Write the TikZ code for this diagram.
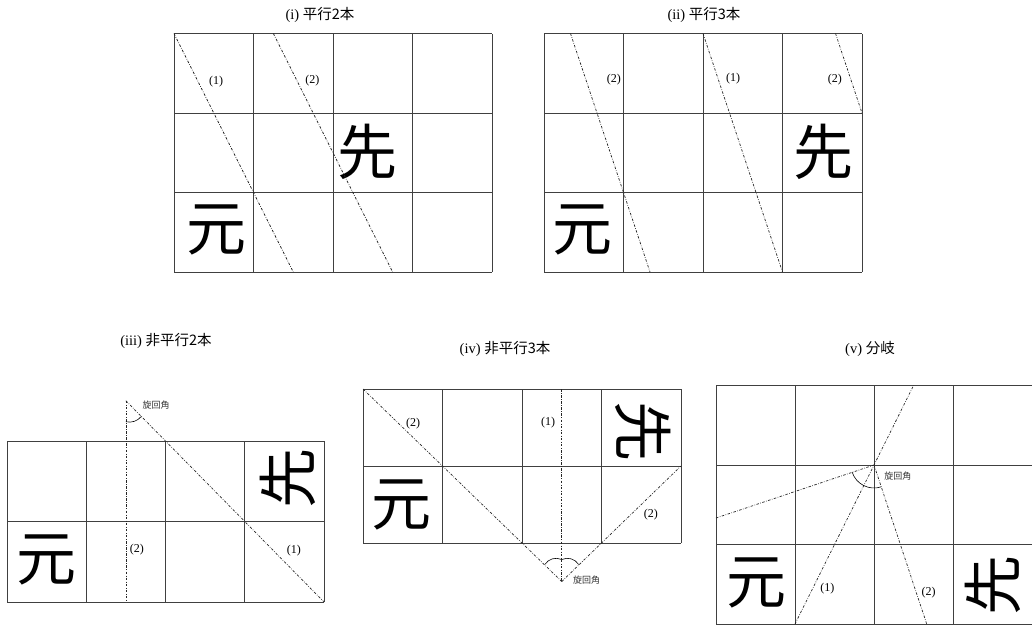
\documentclass[tikz,border=0pt]{standalone}
\usepackage{fontspec}
\setmainfont{Liberation Serif}
\newfontfamily\jpfont{Noto Sans CJK JP}
\begin{document}
\begin{tikzpicture}[x=1pt,y=1pt,
  cell/.style={draw=black!75,line width=0.8pt},
  cutline/.style={line width=0.7pt,black!85,dash pattern=on 2.5pt off 1.5pt on 0.6pt off 1.5pt},
  angarc/.style={line width=0.6pt,black},
  num/.style={font=\fontsize{12}{14}\selectfont,inner sep=1pt},
  bigchar/.style={font=\jpfont\fontsize{60}{62}\selectfont,inner sep=0pt},
  ttl/.style={font=\fontsize{14.5}{16}\selectfont,inner sep=1pt},
  anglbl/.style={font=\jpfont\fontsize{9}{10}\selectfont,inner sep=0pt,anchor=west,black!80}]
\useasboundingbox (0,0) rectangle (1032,-624);
\fill[white] (0,0) rectangle (1032,-624);
% (i)
\node[ttl] (t1) at (320,-15) {(i) {\jpfont 平行2本}};
\begin{scope}[shift={(174pt,-272pt)},x=79.5pt,y=79.5pt]
\draw[cell,step=1] (0,0) grid (4,3);
\node[bigchar] (gen1) at (0.54,0.53) {元};
\node[bigchar] (sen1) at (2.44,1.51) {先};
\coordinate (a1) at (0,3);
\coordinate (b1) at (1.5,0);
\coordinate (c1) at (1.25,3);
\coordinate (d1) at (2.75,0);
\draw[cutline] (a1) -- (b1);
\draw[cutline] (c1) -- (d1);
\node[num] (n1a) at (0.53,2.39) {(1)};
\node[num] (n1b) at (1.74,2.41) {(2)};
\end{scope}
% (ii)
\node[ttl] (t2) at (704,-15) {(ii) {\jpfont 平行3本}};
\begin{scope}[shift={(544pt,-272pt)},x=79.5pt,y=79.5pt]
\draw[cell,step=1] (0,0) grid (4,3);
\node[bigchar] (gen2) at (0.49,0.53) {元};
\node[bigchar] (sen2) at (3.51,1.51) {先};
\coordinate (a2) at (0.333,3);
\coordinate (b2) at (1.333,0);
\coordinate (c2) at (2,3);
\coordinate (d2) at (3,0);
\coordinate (e2) at (3.667,3);
\coordinate (f2) at (4,2);
\draw[cutline] (a2) -- (b2);
\draw[cutline] (c2) -- (d2);
\draw[cutline] (e2) -- (f2);
\node[num] (n2a) at (0.88,2.42) {(2)};
\node[num] (n2b) at (2.38,2.43) {(1)};
\node[num] (n2c) at (3.66,2.42) {(2)};
\end{scope}
% (iii)
\node[ttl] (t3) at (166,-341) {(iii) {\jpfont 非平行2本}};
\begin{scope}[shift={(7pt,-602pt)},x=79.25pt,y=80.5pt]
\draw[cell,step=1] (0,0) grid (4,2);
\node[bigchar] (gen3) at (0.5,0.52) {元};
\node[bigchar,rotate=90] (sen3) at (3.55,1.54) {先};
\coordinate (o3) at (1.5,2.5);
\coordinate (b3) at (1.5,0);
\coordinate (d3) at (4,0);
\draw[cutline] (o3) -- (b3);
\draw[cutline] (o3) -- (d3);
\path (o3) ++(-90:21pt) coordinate (p3);
\path (o3) ++(-45:22pt) coordinate (q3);
\draw[angarc] (p3) to[bend right=30] (q3);
\node[anglbl] (g3) at (1.71,2.45) {旋回角};
\node[num] (n3a) at (1.64,0.65) {(2)};
\node[num] (n3b) at (3.62,0.64) {(1)};
\end{scope}
% (iv)
\node[ttl] (t4) at (505,-349) {(iv) {\jpfont 非平行3本}};
\begin{scope}[shift={(363pt,-543pt)},x=79.5pt,y=77pt]
\draw[cell,step=1] (0,0) grid (4,2);
\node[bigchar] (gen4) at (0.49,0.5) {元};
\node[bigchar,rotate=-90] (sen4) at (3.52,1.45) {先};
\coordinate (o4) at (2.5,-0.5);
\coordinate (a4) at (0,2);
\coordinate (c4) at (2.5,2);
\coordinate (d4) at (4,1);
\draw[cutline] (a4) -- (o4);
\draw[cutline] (c4) -- (o4);
\draw[cutline] (o4) -- (d4);
\path (o4) ++(90:22pt) coordinate (p4);
\path (o4) ++(135:24pt) coordinate (q4);
\path (o4) ++(45:24pt) coordinate (r4);
\draw[angarc] (p4) to[bend right=40] (q4);
\draw[angarc] (p4) to[bend left=40] (r4);
\node[anglbl] (g4) at (2.64,-0.48) {旋回角};
\node[num] (n4a) at (0.63,1.55) {(2)};
\node[num] (n4b) at (2.33,1.56) {(1)};
\node[num] (n4c) at (3.62,0.37) {(2)};
\end{scope}
% (v)
\node[ttl] (t5) at (870,-349) {(v) {\jpfont 分岐}};
\begin{scope}[shift={(716pt,-624pt)},x=79pt,y=79.5pt]
\draw[cell,step=1] (0,0) grid (4,3);
\node[bigchar] (gen5) at (0.51,0.52) {元};
\node[bigchar,rotate=90] (sen5) at (3.51,0.49) {先};
\coordinate (o5) at (2,2);
\coordinate (a5) at (1,0);
\coordinate (b5) at (2.5,3);
\coordinate (c5) at (2.667,0);
\coordinate (e5) at (0,1.333);
\draw[cutline] (a5) -- (b5);
\draw[cutline] (o5) -- (c5);
\draw[cutline] (e5) -- (o5);
\draw[angarc] (o5) ++(198.4:23pt) arc[start angle=198.4,end angle=288.4,radius=23pt];
\node[anglbl] (g5) at (2.13,1.86) {旋回角};
\node[num] (n5a) at (1.41,0.45) {(1)};
\node[num] (n5b) at (2.69,0.39) {(2)};
\end{scope}
\end{tikzpicture}
\end{document}
